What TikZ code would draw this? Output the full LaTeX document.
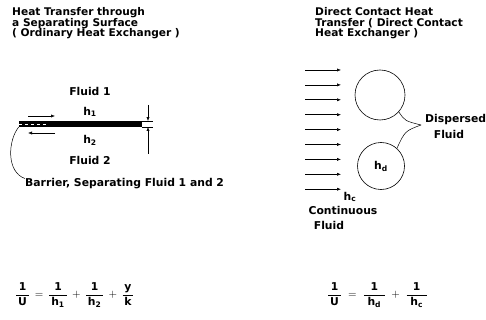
\documentclass[tikz,border=0pt]{standalone}
\usepackage{fontspec}
\usepackage{amsmath}
\setmainfont{DejaVu Sans}
\usetikzlibrary{arrows.meta,positioning,calc}

\newcommand{\eqfr}[2]{\dfrac{\,\text{#1}\,}{\,#2\,}}

\tikzset{
    lbl/.style={font=\fontsize{10.8}{10.8}\selectfont\bfseries, inner sep=0pt},
    ttl/.style={lbl, align=left, font=\fontsize{10.6}{10.6}\selectfont\bfseries},
    flow/.style={-{Latex[length=4pt,width=3.2pt]}, line width=0.6pt},
    drop/.style={circle, draw, line width=0.6pt, inner sep=0pt}
}

\begin{document}
\begin{tikzpicture}[x=1pt, y=-1pt]
    \useasboundingbox (0,0) rectangle (486,320);

    % Titles
    \node[ttl, anchor=north west] (titleL) at (12,7.5) {Heat Transfer through\\a Separating Surface\\( Ordinary Heat Exchanger )};
    \node[ttl, anchor=north west] (titleR) at (315,7.5) {Direct Contact Heat\\Transfer ( Direct Contact\\Heat Exchanger )};

    % Separating surface
    \node[fill=black, minimum width=123pt, minimum height=5.5pt, inner sep=0pt] (bar) at (80.5,124) {};
    \draw[white, dashed, line width=0.4pt] (bar.west) -- ++(28,0);
    \node[lbl] (fluid1) at (90,91) {Fluid 1};
    \node[lbl] (h1) at (90,112) {$\text{h}_{\text{1}}$};
    \node[lbl] (h2) at (90,140) {$\text{h}_{\text{2}}$};
    \node[lbl] (fluid2) at (90,160) {Fluid 2};

    \coordinate (u1) at (28,116);  \coordinate (u2) at (55,116);
    \coordinate (l1) at (55,133);  \coordinate (l2) at (28,133);
    \draw[flow] (u1) -- (u2);
    \draw[flow] (l1) -- (l2);

    % Thickness
    \draw[line width=0.5pt] (bar.north east) -- ++(11,0);
    \draw[line width=0.5pt] (bar.south east) -- ++(11,0);
    \coordinate (tt) at (148,105);
    \coordinate (tb) at (148,154);
    \draw[flow] (tt) -- (tt |- bar.north);
    \draw[flow] (tb) -- (tb |- bar.south);

    \node[lbl, anchor=west] (barrier) at (25,184) {Barrier, Separating Fluid 1 and 2};
    \draw[line width=0.5pt] (bar.south west) .. controls (8,140) and (6,172) .. (barrier.north west);

    % Direct contact
    \foreach \i in {0,...,8} {
        \coordinate (s\i) at (305,70+14.9*\i);
        \coordinate (e\i) at (341,70+14.9*\i);
        \draw[flow] (s\i) -- (e\i);
    }
    \node[drop, minimum size=50pt] (drop1) at (380,95) {};
    \node[drop, minimum size=47pt, font=\fontsize{10.8}{10.8}\selectfont\bfseries] (drop2) at (381,166) {$\text{h}_{\text{d}}$};

    \coordinate (tip) at (421,125);
    \draw[line width=0.5pt] (drop1.-42) .. controls (405,121) .. (tip);
    \draw[line width=0.5pt] (drop2.48) .. controls (405,131) .. (tip);
    \node[lbl, anchor=west] (disp) at (425,120) {Dispersed};
    \node[lbl] (dispfl) at (449,134) {Fluid};

    \node[lbl] (hc) at (350,197) {$\text{h}_{\text{c}}$};
    \node[lbl] (cont) at (343,210) {Continuous};
    \node[lbl] (contfl) at (329,225) {Fluid};

    % Equations
    \node[lbl, anchor=west] (eqL) at (15,295) {$\eqfr{1}{\text{U}} \,=\, \eqfr{1}{\text{h}_{\text{1}}} \,+\, \eqfr{1}{\text{h}_{\text{2}}} \,+\, \eqfr{y}{\text{k}}$};
    \node[lbl, anchor=west] (eqR) at (327,295) {$\eqfr{1}{\text{U}} \;=\; \eqfr{1}{\,\text{h}_{\text{d}}\,} \;+\; \eqfr{1}{\,\text{h}_{\text{c}}\,}$};
\end{tikzpicture}
\end{document}
